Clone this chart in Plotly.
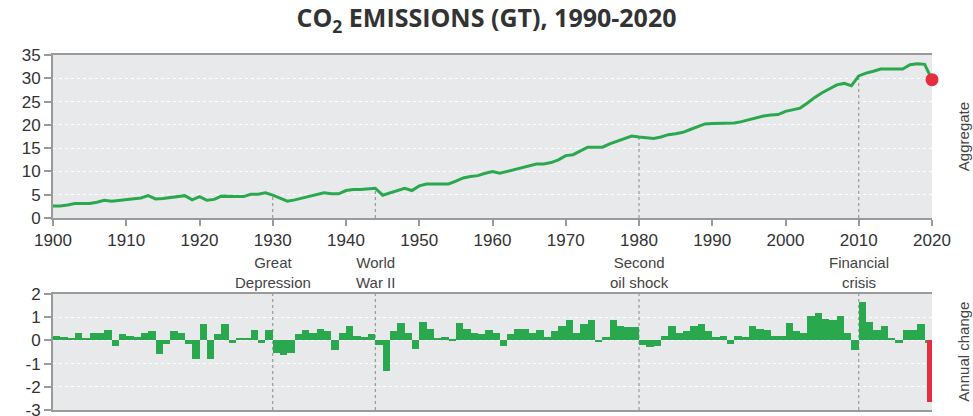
import plotly.graph_objects as go

years = list(range(1900, 2021))
aggregate = [
    2.6, 2.6, 2.8, 3.1, 3.1, 3.1, 3.4, 3.8, 3.6, 3.8,
    3.9, 4.1, 4.3, 4.8, 4.1, 4.2, 4.4, 4.7, 4.8, 3.9,
    4.6, 3.8, 4.0, 4.7, 4.6, 4.6, 4.6, 5.1, 5.1, 5.4,
    4.9, 4.3, 3.6, 3.9, 4.3, 4.6, 5.0, 5.4, 5.2, 5.2,
    5.9, 6.1, 6.1, 6.3, 6.4, 4.9, 5.4, 6.0, 6.4, 5.9,
    6.9, 7.3, 7.3, 7.3, 7.3, 7.9, 8.6, 8.9, 9.1, 9.6,
    10.0, 9.6, 10.0, 10.4, 10.8, 11.1, 11.6, 11.6, 11.9, 12.5,
    13.4, 13.6, 14.4, 15.2, 15.2, 15.2, 15.9, 16.5, 17.1, 17.6,
    17.4, 17.3, 17.1, 17.4, 17.9, 18.1, 18.4, 19.0, 19.6, 20.2,
    20.3, 20.3, 20.3, 20.4, 20.7, 21.1, 21.5, 21.9, 22.1, 22.2,
    22.9, 23.2, 23.6, 24.7, 25.9, 26.9, 27.8, 28.6, 28.9, 28.4,
    30.5, 31.1, 31.5, 32.0, 32.0, 32.0, 32.0, 32.9, 33.1, 33.0,
    29.7,
]
change_years = list(range(1900, 2020))
annual_change = [
    0.17, 0.13, 0.09, 0.3, 0.09, 0.3, 0.3, 0.47, -0.24, 0.26,
    0.21, 0.13, 0.3, 0.39, -0.59, -0.16, 0.39, 0.3, -0.16, -0.8,
    0.69, -0.8, 0.26, 0.69, -0.11, 0.09, 0.09, 0.43, -0.11, 0.43,
    -0.54, -0.63, -0.54, 0.26, 0.43, 0.3, 0.51, 0.39, -0.41, 0.3,
    0.6, 0.21, 0.13, 0.26, -0.2, -1.31, 0.39, 0.77, 0.3, -0.37,
    0.81, 0.51, 0.09, 0.13, 0.04, 0.73, 0.51, 0.34, 0.26, 0.47,
    0.34, -0.24, 0.26, 0.51, 0.51, 0.34, 0.43, 0.13, 0.39, 0.6,
    0.86, 0.34, 0.69, 0.9, -0.07, 0.13, 0.86, 0.6, 0.56, 0.56,
    -0.2, -0.29, -0.24, 0.17, 0.6, 0.3, 0.39, 0.64, 0.69, 0.39,
    0.13, 0.17, -0.16, 0.17, 0.13, 0.6, 0.51, 0.43, 0.21, 0.17,
    0.73, 0.39, 0.34, 1.07, 1.2, 0.94, 0.9, 1.07, 0.3, -0.41,
    1.67, 0.81, 0.43, 0.6, 0.09, -0.11, 0.43, 0.47, 0.69, -0.11,
]
last_year = 2020
last_change = -2.64
events = [1930, 1944, 1980, 2010]
event_labels = ["Great<br>Depression", "World<br>War II", "Second<br>oil shock", "Financial<br>crisis"]
x_ticks = list(range(1900, 2021, 10))
y1_ticks = [0, 5, 10, 15, 20, 25, 30, 35]
y2_ticks = [-3, -2, -1, 0, 1, 2]
y2_ticktext = ["-3", "-2", "-1", "0", "1", "2"]

GREEN = "#2aa84e"
RED = "#e62e40"
BG = "#e8e9eb"
AXC = "#9a9a9a"
TXT = "#333333"
FONT = "Liberation Sans, Arial, sans-serif"

fig = go.Figure()
fig.add_trace(go.Scatter(x=years, y=aggregate, mode="lines",
                         line=dict(color=GREEN, width=3), xaxis="x", yaxis="y",
                         hoverinfo="skip", showlegend=False))
fig.add_trace(go.Scatter(x=[last_year], y=[aggregate[-1]], mode="markers",
                         marker=dict(color=RED, size=13), cliponaxis=False,
                         xaxis="x", yaxis="y", showlegend=False))
fig.add_trace(go.Bar(x=[y + 0.5 for y in change_years], y=annual_change, width=1,
                     marker=dict(color=GREEN, line=dict(width=0)),
                     xaxis="x2", yaxis="y2", showlegend=False))
fig.add_trace(go.Bar(x=[last_year], y=[last_change], width=1.35,
                     marker=dict(color=RED, line=dict(width=0)), cliponaxis=False,
                     xaxis="x2", yaxis="y2", showlegend=False))

shapes = []
for ev in events:
    val = aggregate[years.index(ev)]
    shapes.append(dict(type="line", xref="x", yref="y", x0=ev, x1=ev, y0=0, y1=val,
                       line=dict(color="#888888", width=1, dash="dot"), layer="between"))
    shapes.append(dict(type="line", xref="x2", yref="y2", x0=ev, x1=ev, y0=-3, y1=2,
                       line=dict(color="#888888", width=1, dash="dot"), layer="between"))

annotations = []
for ev, lab in zip(events, event_labels):
    annotations.append(dict(x=ev, xref="x2", y=0.327, yref="paper", yanchor="bottom",
                            xanchor="center", text=lab, showarrow=False, yshift=1,
                            font=dict(family=FONT, size=15, color="#444444")))
annotations.append(dict(x=1.0, xref="paper", y=0.77, yref="paper", text="Aggregate",
                        textangle=-90, showarrow=False, xanchor="left", yanchor="middle",
                        xshift=21,
                        font=dict(family=FONT, size=15, color="#444444")))
annotations.append(dict(x=1.0, xref="paper", y=0.163, yref="paper", text="Annual change",
                        textangle=-90, showarrow=False, xanchor="left", yanchor="middle",
                        xshift=21,
                        font=dict(family=FONT, size=15, color="#444444")))

fig.update_layout(
    width=973, height=416,
    margin=dict(l=53, r=41, t=55, b=6, autoexpand=False),
    paper_bgcolor="white", plot_bgcolor=BG,
    bargap=0,
    title=dict(text="CO<sub>2</sub> EMISSIONS (GT), 1990-2020", x=0.5, xanchor="center",
               y=0.955, yanchor="middle",
               font=dict(family="Open Sans", size=25, color=TXT, weight="bold")),
    xaxis=dict(domain=[0, 1], range=[1900, 2020], anchor="y", tickvals=x_ticks,
               ticks="outside", ticklen=6, tickcolor=AXC, tickwidth=1.5,
               showline=True, linecolor=AXC, linewidth=2, mirror=True,
               showgrid=False, zeroline=False, automargin=False,
               tickfont=dict(family=FONT, size=17, color=TXT)),
    yaxis=dict(domain=[0.5408, 1], range=[0, 35], tickvals=y1_ticks, anchor="x",
               ticks="outside", ticklen=7, tickcolor=AXC, tickwidth=1.5,
               showline=True, linecolor=AXC, linewidth=2, automargin=False,
               showgrid=True, gridcolor="white", griddash="dot", gridwidth=1,
               zeroline=False, tickfont=dict(family=FONT, size=17, color=TXT)),
    xaxis2=dict(domain=[0, 1], range=[1900, 2020], anchor="y2", showticklabels=False,
                ticks="", showline=True, linecolor=AXC, linewidth=2, mirror=True,
                showgrid=False, zeroline=False, automargin=False),
    yaxis2=dict(domain=[0, 0.3268], range=[-3, 2], tickvals=y2_ticks, ticktext=y2_ticktext,
                anchor="x2", ticks="outside", ticklen=7, tickcolor=AXC, tickwidth=1.5,
                showline=True, linecolor=AXC, linewidth=2, automargin=False,
                ticklabeloverflow="allow",
                showgrid=True, gridcolor="white", griddash="dot", gridwidth=1,
                zeroline=False, tickfont=dict(family=FONT, size=17, color=TXT)),
    shapes=shapes, annotations=annotations,
)

fig.write_html("out.html", config={"displayModeBar": False},
               post_script="document.body.style.margin='0';document.body.style.overflow='hidden';")
